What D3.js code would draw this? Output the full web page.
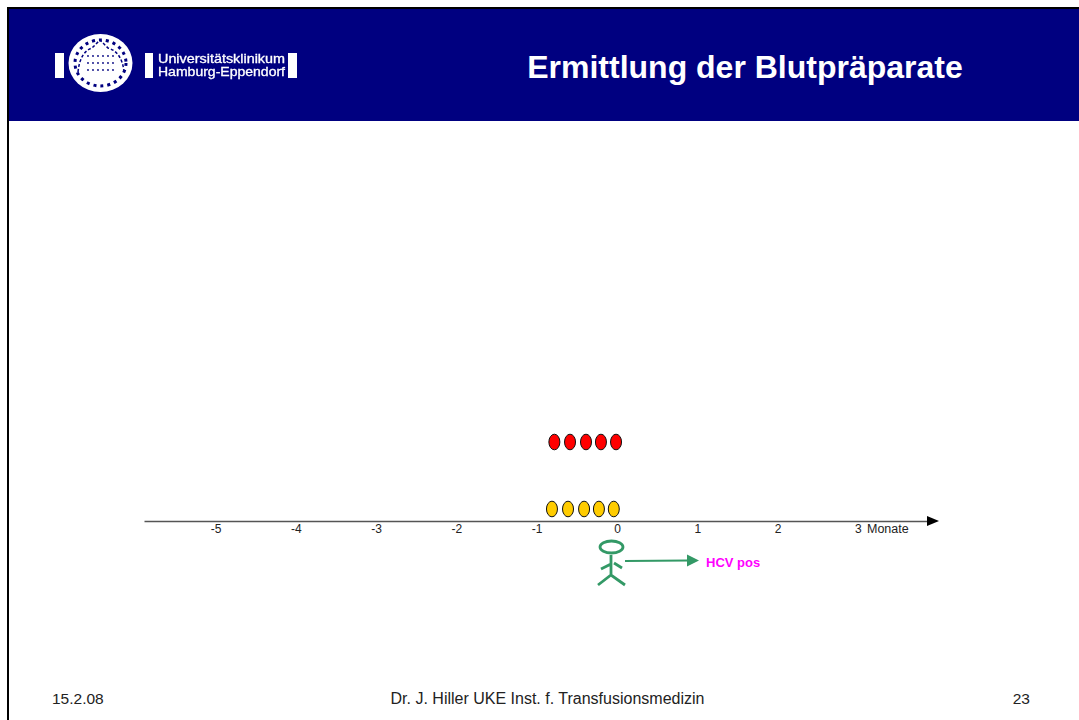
<!DOCTYPE html>
<html>
<head>
<meta charset="utf-8">
<script src="https://cdn.jsdelivr.net/npm/d3@7"></script>
<style>
html, body { margin: 0; padding: 0; background: #fff; }
svg { display: block; }
text { font-family: "Liberation Sans", Arial, sans-serif; }
</style>
</head>
<body>
<div id="chart"></div>
<script>
// slide data
var titleText = "Ermittlung der Blutpräparate";
var months = [-5, -4, -3, -2, -1, 0, 1, 2, 3];
var unitLabel = "Monate";
// donations, in months before the test
var redDonations = [-0.78, -0.585, -0.386, -0.2, -0.012];
var yellowDonations = [-0.81, -0.61, -0.41, -0.225, -0.04];
var statusLabel = "HCV pos";
var footerDate = "15.2.08";
var footerAuthor = "Dr. J. Hiller UKE Inst. f. Transfusionsmedizin";
var footerPage = "23";

var w = 1079;
var h = 720;
var navy = "#000080";
var green = "#339966";

var x = d3.scaleLinear().domain([0, 1]).range([617, 697.3]);
var axisY = 521;

var svg = d3.select("#chart").append("svg").attr("width", w).attr("height", h);

// soft edge for the logo, the original is a scaled bitmap
svg.append("defs").append("filter").attr("id", "soft")
    .append("feGaussianBlur").attr("stdDeviation", 0.55);

// frame + header
svg.append("rect").attr("x", 7).attr("y", 7).attr("width", w - 7).attr("height", 2).attr("fill", "#000");
svg.append("rect").attr("x", 7).attr("y", 7).attr("width", 2).attr("height", h - 7).attr("fill", "#000");
svg.append("rect").attr("x", 9).attr("y", 9).attr("width", w - 9).attr("height", 112).attr("fill", navy);

// logo
var logo = svg.append("g").attr("filter", "url(#soft)");
[[55, 9], [145, 8], [288, 9]].forEach(function(b) {
    logo.append("rect").attr("x", b[0]).attr("y", 53).attr("width", b[1]).attr("height", 25).attr("fill", "#fff");
});
logo.append("ellipse").attr("cx", 100.5).attr("cy", 63).attr("rx", 32).attr("ry", 29).attr("fill", "#fff");
logo.append("ellipse").attr("cx", 100.5).attr("cy", 63).attr("rx", 25.5).attr("ry", 23)
    .attr("fill", "none").attr("stroke", navy).attr("stroke-width", 3).attr("stroke-dasharray", "3 4");
logo.append("path")
    .attr("d", "M78 72 Q80 52 92 48 L100 40 L108 48 Q122 52 124 72")
    .attr("fill", "none").attr("stroke", navy).attr("stroke-width", 1.5).attr("stroke-dasharray", "3 2");
logo.selectAll("circle.speck")
    .data(d3.range(18))
    .enter()
    .append("circle")
    .attr("class", "speck")
    .attr("cx", (d) => 88 + (d % 6) * 5)
    .attr("cy", (d) => 56 + Math.floor(d / 6) * 7)
    .attr("r", 0.9)
    .attr("fill", navy);
logo.append("text").attr("x", 158).attr("y", 63).attr("font-size", 12)
    .attr("fill", "#fff").attr("stroke", "#fff").attr("stroke-width", 0.3)
    .attr("textLength", 127).attr("lengthAdjust", "spacingAndGlyphs").text("Universitätsklinikum");
logo.append("text").attr("x", 158).attr("y", 76).attr("font-size", 12)
    .attr("fill", "#fff").attr("stroke", "#fff").attr("stroke-width", 0.3)
    .attr("textLength", 127).attr("lengthAdjust", "spacingAndGlyphs").text("Hamburg-Eppendorf");

// title
svg.append("text").attr("x", 745).attr("y", 78).attr("text-anchor", "middle")
    .attr("font-size", 32).attr("font-weight", "bold").attr("fill", "#fff").text(titleText);

// time axis
var axisScale = x.copy().domain([(144 - 617) / 80.3, (930 - 617) / 80.3]).range([144, 930]);
var axis = d3.axisBottom(axisScale).tickValues(months).tickSize(0).tickPadding(3)
    .tickFormat((d) => String(d));
var axisG = svg.append("g").attr("transform", "translate(0," + axisY + ")").call(axis);
axisG.select(".domain").attr("stroke", "#555").attr("stroke-width", 1.5);
axisG.selectAll("text").attr("font-family", "Liberation Sans").attr("font-size", 12).attr("fill", "#222");

svg.append("path").attr("d", "M927 516 L939 521 L927 526 Z").attr("fill", "#000");
svg.append("text").attr("x", 867).attr("y", 533).attr("font-size", 12.5).attr("fill", "#222").text(unitLabel);

// donation rows
function drawRow(values, cy, fill) {
    svg.append("g").selectAll("ellipse")
        .data(values)
        .enter()
        .append("ellipse")
        .attr("cx", (d) => x(d))
        .attr("cy", cy)
        .attr("rx", 5.5)
        .attr("ry", 7.8)
        .attr("fill", fill)
        .attr("stroke", "#111")
        .attr("stroke-width", 1);
}
drawRow(redDonations, 442, "#ff0000");
drawRow(yellowDonations, 509, "#ffcc00");

// stick figure
var person = svg.append("g").attr("fill", "none").attr("stroke", green).attr("stroke-width", 2.8);
person.append("ellipse").attr("cx", 611.5).attr("cy", 547).attr("rx", 11.5).attr("ry", 6);
person.append("path").attr("d", "M611 555 L611 575 M601 569 L611 564 M614 563 L622 568 M598 585 L611 575 L625 585");

// arrow to result
svg.append("line").attr("x1", 625).attr("y1", 561).attr("x2", 688).attr("y2", 560.5)
    .attr("stroke", green).attr("stroke-width", 2);
svg.append("path").attr("d", "M687 554.5 L699 560.5 L687 566.5 Z").attr("fill", green);
svg.append("text").attr("x", 706).attr("y", 567).attr("font-size", 13).attr("font-weight", "bold")
    .attr("fill", "#ff00ff").text(statusLabel);

// footer
var footer = svg.append("g").attr("font-size", 15.5).attr("fill", "#222");
footer.append("text").attr("x", 52).attr("y", 704).text(footerDate);
footer.append("text").attr("x", 547.5).attr("y", 704).attr("font-size", 16).attr("text-anchor", "middle").text(footerAuthor);
footer.append("text").attr("x", 1030).attr("y", 704).attr("text-anchor", "end").text(footerPage);
</script>
</body>
</html>
